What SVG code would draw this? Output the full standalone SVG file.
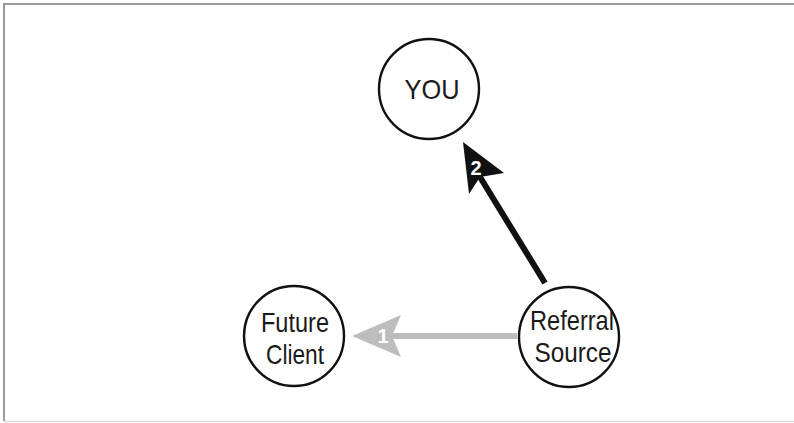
<svg xmlns="http://www.w3.org/2000/svg" width="794" height="423" viewBox="0 0 794 423">
<style>
.node{fill:#fff;stroke:#111;stroke-width:2.4}
.lbl{font-family:"Liberation Sans",Arial,sans-serif;font-size:27.5px;fill:#1a1a1a;text-anchor:middle}
.num{font-family:"Liberation Sans",Arial,sans-serif;font-size:20px;font-weight:bold;fill:#fff;text-anchor:middle}
</style>
<rect width="794" height="423" fill="#fff"/>
<path d="M794,4 H4 V421" fill="none" stroke="#9a9a9a" stroke-width="2"/>
<line x1="4" y1="421.5" x2="794" y2="421.5" stroke="#dcdcdc" stroke-width="1.5"/>
<g id="connectors">
  <g id="edge1">
    <line x1="517" y1="336" x2="392" y2="336" stroke="#bdbdbd" stroke-width="6"/>
    <polygon points="352,336 401,315 392,336 401,357" fill="#bdbdbd"/>
    <text class="num" x="383" y="343">1</text>
  </g>
  <g id="edge2">
    <line x1="545" y1="283" x2="480" y2="177" stroke="#111" stroke-width="6"/>
    <polygon points="463,142 504,173 480,177 469,194" fill="#111"/>
    <text class="num" x="476" y="175">2</text>
  </g>
</g>
<g id="you">
  <circle class="node" cx="429" cy="89" r="50"/>
  <text class="lbl" x="432" y="99" textLength="55" lengthAdjust="spacingAndGlyphs">YOU</text>
</g>
<g id="future-client">
  <circle class="node" cx="294" cy="336" r="50"/>
  <text class="lbl" x="295" y="332" textLength="68" lengthAdjust="spacingAndGlyphs">Future</text>
  <text class="lbl" x="295" y="364" textLength="58" lengthAdjust="spacingAndGlyphs">Client</text>
</g>
<g id="referral-source">
  <circle class="node" cx="569" cy="337" r="50"/>
  <text class="lbl" x="572" y="330" textLength="84" lengthAdjust="spacingAndGlyphs">Referral</text>
  <text class="lbl" x="573" y="362" textLength="77" lengthAdjust="spacingAndGlyphs">Source</text>
</g>
</svg>
